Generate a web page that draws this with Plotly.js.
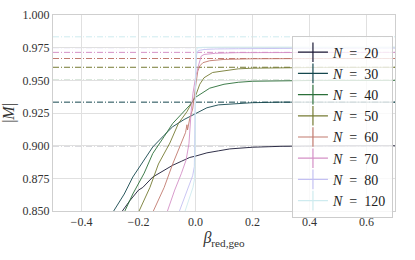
<!DOCTYPE html>
<html>
<head>
<meta charset="utf-8">
<script src="https://cdn.plot.ly/plotly-3.0.1.min.js"></script>
<style>html,body{margin:0;padding:0;background:#fff}#chart{width:415px;height:260px}</style>
</head>
<body>
<div id="chart"></div>
<script>
// Series labels and colours (cubehelix palette)
const sizes = [20, 30, 40, 50, 60, 70, 80, 120];
const colors = ['#1a1935', '#15474e', '#2b6f39', '#767b33', '#c17a6f', '#d490c6', '#c3c0f2', '#ceebef'];
// Reference (limit) values drawn as dash-dot lines
const limits = [0.9, 0.9333, 0.95, 0.96, 0.9667, 0.9714, 0.975, 0.9833];

// Curves |M| vs beta_red,geo
const beta20 = [-0.26, -0.23, -0.20, -0.185, -0.15, -0.11, -0.08, -0.05, -0.02, 0.0, 0.04, 0.08, 0.12, 0.2, 0.3, 0.45, 0.7];
const m20    = [0.849, 0.858, 0.866, 0.868, 0.876, 0.881, 0.885, 0.888, 0.891, 0.892, 0.8945, 0.896, 0.8975, 0.8988, 0.8995, 0.8998, 0.8999];

const beta30 = [-0.29, -0.25, -0.22, -0.18, -0.15, -0.11, -0.08, -0.04, 0.0, 0.04, 0.08, 0.14, 0.2, 0.3, 0.45, 0.7];
const m30    = [0.849, 0.863, 0.876, 0.889, 0.899, 0.908, 0.9145, 0.920, 0.9245, 0.929, 0.9312, 0.9323, 0.9329, 0.9333, 0.9333, 0.9333];

const beta40 = [-0.25, -0.22, -0.18, -0.15, -0.11, -0.08, -0.05, -0.02, 0.0, 0.02, 0.05, 0.1, 0.15, 0.2, 0.3, 0.45, 0.7];
const m40    = [0.849, 0.863, 0.879, 0.894, 0.907, 0.917, 0.924, 0.931, 0.937, 0.940, 0.944, 0.947, 0.9485, 0.9493, 0.9498, 0.950, 0.950];

const beta50 = [-0.20, -0.16, -0.13, -0.09, -0.06, -0.03, -0.01, 0.0, 0.015, 0.03, 0.06, 0.1, 0.15, 0.2, 0.3, 0.45, 0.7];
const m50    = [0.849, 0.868, 0.886, 0.902, 0.917, 0.926, 0.934, 0.938, 0.947, 0.952, 0.956, 0.9575, 0.9588, 0.9593, 0.9597, 0.9599, 0.960];

const beta60 = [-0.15, -0.11, -0.08, -0.05, -0.035, -0.03, -0.028, -0.02, -0.01, 0.0, 0.008, 0.015, 0.026, 0.05, 0.1, 0.2, 0.3, 0.45, 0.7];
const m60    = [0.849, 0.868, 0.886, 0.9015, 0.910, 0.916, 0.912, 0.921, 0.928, 0.945, 0.957, 0.961, 0.9635, 0.965, 0.966, 0.9665, 0.9667, 0.9667, 0.9667];

const beta70 = [-0.10, -0.073, -0.05, -0.033, -0.023, -0.019, -0.015, -0.009, 0.0, 0.01, 0.02, 0.03, 0.07, 0.15, 0.3, 0.45, 0.7];
const m70    = [0.849, 0.866, 0.8785, 0.889, 0.9015, 0.9195, 0.927, 0.940, 0.952, 0.961, 0.9685, 0.9698, 0.9707, 0.9712, 0.9714, 0.9714, 0.9714];

const beta80 = [-0.058, -0.038, -0.021, -0.01, -0.004, -0.002, 0.0, 0.004, 0.01, 0.03, 0.07, 0.15, 0.3, 0.45, 0.7];
const m80    = [0.849, 0.8605, 0.8705, 0.877, 0.884, 0.92, 0.955, 0.970, 0.9728, 0.9736, 0.974, 0.9742, 0.9745, 0.9746, 0.9747];

const beta120 = [-0.038, -0.021, -0.009, -0.003, -0.001, 0.0, 0.002, 0.006, 0.03, 0.1, 0.3, 0.45, 0.7];
const m120    = [0.849, 0.8607, 0.868, 0.875, 0.90, 0.94, 0.97, 0.975, 0.9753, 0.9754, 0.9755, 0.9755, 0.9755];

const betas = [beta20, beta30, beta40, beta50, beta60, beta70, beta80, beta120];
const mags  = [m20, m30, m40, m50, m60, m70, m80, m120];

const serif = '"Liberation Serif", "DejaVu Serif", serif';
const traces = [];
sizes.forEach((n, i) => {
  traces.push({
    type: 'scatter', mode: 'lines', x: betas[i], y: mags[i],
    line: {color: colors[i], width: 1}, opacity: 0.9, showlegend: false, hoverinfo: 'skip'
  });
});
// legend entries (error-bar style handles)
sizes.forEach((n, i) => {
  traces.push({
    type: 'scatter', mode: 'lines+markers', x: [null], y: [null],
    name: '<i>N</i>\u2002=\u2002' + n,
    line: {color: colors[i], width: 1.2},
    marker: {symbol: 'line-ns-open', size: 14, color: colors[i], line: {color: colors[i], width: 1.2}},
    showlegend: true
  });
});

const shapes = limits.map((v, i) => ({
  type: 'line', xref: 'paper', x0: 0, x1: 1, yref: 'y', y0: v, y1: v,
  line: {color: colors[i], width: 1, dash: '6px,2px,1px,2px'}, layer: 'below'
}));

const layout = {
  width: 415, height: 260,
  margin: {l: 53, r: 20, t: 15, b: 49},
  paper_bgcolor: '#fff', plot_bgcolor: '#fff',
  font: {family: serif, size: 12, color: '#333'},
  showlegend: true,
  xaxis: {
    range: [-0.5, 0.7], tickvals: [-0.4, -0.2, 0.0, 0.2, 0.4, 0.6], tickformat: '.1f',
    showgrid: true, gridcolor: '#e0e0e0', gridwidth: 1, zeroline: false,
    showline: true, mirror: true, linecolor: '#cfcfcf', linewidth: 1, ticks: '',
    tickfont: {family: serif, size: 12, color: '#333'},
    title: {text: '<i>β</i><sub>red,geo</sub>', font: {family: serif, size: 16, color: '#333'}, standoff: 2}
  },
  yaxis: {
    range: [0.85, 1.0], tickvals: [0.85, 0.875, 0.9, 0.925, 0.95, 0.975, 1.0], tickformat: '.3f',
    showgrid: true, gridcolor: '#e0e0e0', gridwidth: 1, zeroline: false,
    showline: true, mirror: true, linecolor: '#cfcfcf', linewidth: 1, ticks: '',
    tickfont: {family: serif, size: 12, color: '#333'},
    title: {text: '|<i>M</i>|', font: {family: serif, size: 16, color: '#333'}, standoff: 6}
  },
  legend: {
    x: 0.994, xanchor: 'right', y: 0.895, yanchor: 'top',
    bgcolor: 'rgba(255,255,255,0.8)', bordercolor: '#cccccc', borderwidth: 1,
    font: {family: serif, size: 14, color: '#222'}, itemwidth: 30,
    tracegroupgap: 0
  },
  shapes: shapes
};

Plotly.newPlot('chart', traces, layout, {staticPlot: true, displayModeBar: false});
</script>
</body>
</html>
